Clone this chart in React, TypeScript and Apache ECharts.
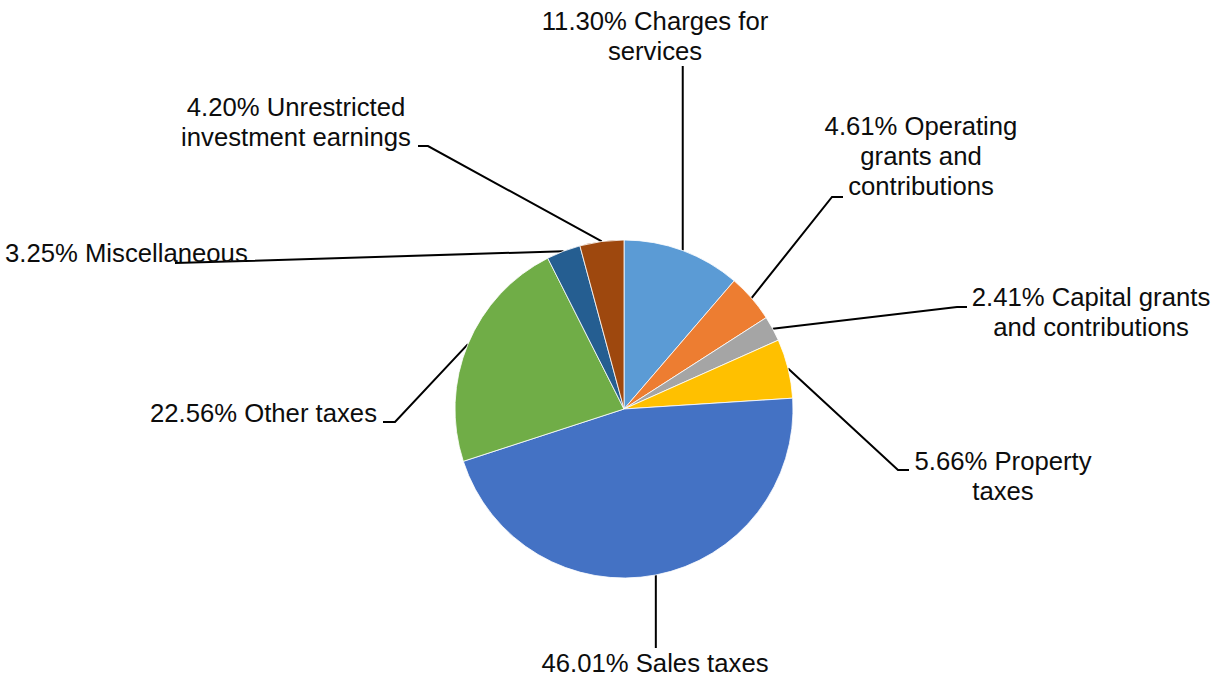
import React, { useEffect, useRef } from "react";
import * as echarts from "echarts";

// ---- Data ----
const categories = [
  "Charges for services",
  "Operating grants and contributions",
  "Capital grants and contributions",
  "Property taxes",
  "Sales taxes",
  "Other taxes",
  "Miscellaneous",
  "Unrestricted investment earnings",
];
const values = [11.3, 4.61, 2.41, 5.66, 46.01, 22.56, 3.25, 4.2];
// Label text of each name, wrapped as in the reference
const labelNames = [
  "Charges for\nservices",
  "Operating\ngrants and\ncontributions",
  "Capital grants\nand contributions",
  "Property\ntaxes",
  "Sales taxes",
  "Other taxes",
  "Miscellaneous",
  "Unrestricted\ninvestment earnings",
];
const colors = [
  "#5B9BD5",
  "#ED7D31",
  "#A5A5A5",
  "#FFC000",
  "#4472C4",
  "#70AD47",
  "#255E91",
  "#9E480E",
];

// ---- Layout of labels (positions only) ----
type Placement = {
  x: number;
  y: number;
  align: "left" | "center" | "right";
  verticalAlign: "top" | "middle" | "bottom";
  vertical?: boolean; // straight vertical leader to label edge at y
  elbow?: [number, number];
  end?: [number, number];
};
const placements: Placement[] = [
  { x: 655, y: 66, align: "center", verticalAlign: "bottom", vertical: true },
  { x: 921, y: 111, align: "center", verticalAlign: "top", elbow: [832, 197], end: [843, 197] },
  { x: 1091, y: 282, align: "center", verticalAlign: "top", elbow: [957, 307], end: [967, 307] },
  { x: 1003, y: 446, align: "center", verticalAlign: "top", elbow: [898, 470], end: [909, 470] },
  { x: 655, y: 648, align: "center", verticalAlign: "top", vertical: true },
  { x: 377, y: 413, align: "right", verticalAlign: "middle", elbow: [395, 422], end: [383, 422] },
  { x: 5, y: 253, align: "left", verticalAlign: "middle", elbow: [245, 261], end: [175, 263] },
  { x: 296, y: 92, align: "center", verticalAlign: "top", elbow: [428, 146], end: [418, 146] },
];

export default function App() {
  const ref = useRef<HTMLDivElement>(null);
  useEffect(() => {
    if (!ref.current) return;
    const chart = echarts.init(ref.current, null, { renderer: "svg" });
    chart.setOption({
      animation: false,
      backgroundColor: "#ffffff",
      series: [
        {
          type: "pie",
          center: [624, 409],
          radius: 169,
          startAngle: 90,
          clockwise: true,
          avoidLabelOverlap: false,
          data: categories.map((name, i) => ({
            name,
            value: values[i],
            itemStyle: { color: colors[i] },
          })),
          itemStyle: { borderColor: "#ffffff", borderWidth: 0.8 },
          label: {
            show: true,
            position: "outside",
            color: "#0d0d0d",
            fontFamily: "'Liberation Sans', Arial, sans-serif",
            fontSize: 25.7,
            lineHeight: 30,
            formatter: (p: any) =>
              values[p.dataIndex].toFixed(2) + "% " + labelNames[p.dataIndex],
          },
          labelLine: {
            show: true,
            length: 10,
            length2: 10,
            lineStyle: { color: "#000000", width: 2 },
          },
          labelLayout: (params: any) => {
            const pl = placements[params.dataIndex];
            const a = params.labelLinePoints
              ? params.labelLinePoints[0]
              : [0, 0];
            let pts: number[][];
            if (pl.vertical) {
              pts = [
                [a[0], a[1]],
                [a[0], pl.y],
                [a[0], pl.y],
              ];
            } else {
              pts = [[a[0], a[1]], pl.elbow as number[], pl.end as number[]];
            }
            return {
              x: pl.x,
              y: pl.y,
              align: pl.align,
              verticalAlign: pl.verticalAlign,
              labelLinePoints: pts,
            };
          },
          emphasis: { disabled: true },
        },
      ],
    });
    return () => chart.dispose();
  }, []);
  return (
    <div
      ref={ref}
      style={{ position: "absolute", left: 0, top: 0, width: 1216, height: 679 }}
    />
  );
}
